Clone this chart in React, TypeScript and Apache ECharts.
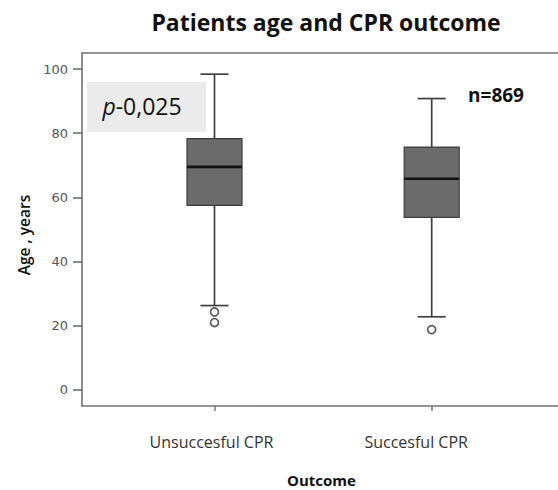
import React, { useEffect, useRef } from "react";
import * as echarts from "echarts";

const categories = ["Unsuccesful CPR", "Succesful CPR"];
const whiskerLow = [26.3, 22.8];
const quartile1 = [57.5, 53.8];
const medians = [69.5, 65.8];
const quartile3 = [78.3, 75.7];
const whiskerHigh = [98.4, 90.8];
const outlierCategory = [0, 0, 1];
const outlierAge = [24.3, 21.0, 18.8];
const yTicks = [0, 20, 40, 60, 80, 100];
const catPositions = [1, 2];

export default function App() {
  const ref = useRef<HTMLDivElement>(null);
  useEffect(() => {
    document.body.style.margin = "0";
    document.body.style.overflow = "hidden";
    const chart = echarts.init(ref.current!, null, { renderer: "svg" });
    const boxData = categories.map((_, i) => [
      catPositions[i],
      whiskerLow[i],
      quartile1[i],
      medians[i],
      quartile3[i],
      whiskerHigh[i],
    ]);
    const outlierData = outlierCategory.map((c, i) => [catPositions[c], outlierAge[i]]);
    const frameLine = { show: true, onZero: false, lineStyle: { color: "#707070", width: 1.6 } };
    chart.setOption({
      animation: false,
      grid: { left: 82, right: 10, top: 53, bottom: 84 },
      xAxis: [
        {
          type: "value",
          min: 0.39,
          max: 2.6138,
          splitLine: { show: false },
          axisLine: frameLine,
          axisTick: { show: true, customValues: catPositions, length: 5, lineStyle: { color: "#777", width: 1.5 } },
          axisLabel: {
            customValues: catPositions,
            formatter: (v: number) => {
              const i = Math.round(v) - 1;
              return i === 0 ? "{a|" + categories[0] + "}" : "{b|" + categories[1] + "}";
            },
            margin: 36,
            verticalAlign: "middle",
            rich: {
              a: { fontSize: 16, fontFamily: "Open Sans", color: "#333", padding: [0, 6, 0, 0] },
              b: { fontSize: 16, fontFamily: "Open Sans", color: "#333", padding: [0, 31, 0, 0] },
            },
          },
        },
        {
          type: "value",
          position: "top",
          min: 0.39,
          max: 2.6138,
          splitLine: { show: false },
          axisLine: frameLine,
          axisTick: { show: false },
          axisLabel: { show: false },
        },
      ],
      yAxis: {
        type: "value",
        min: -5,
        max: 105,
        splitLine: { show: false },
        axisLine: frameLine,
        axisTick: { show: true, customValues: yTicks, length: 9, lineStyle: { color: "#666", width: 1.5 } },
        axisLabel: { customValues: yTicks, margin: 14, fontSize: 13, fontFamily: "DejaVu Sans", color: "#555" },
      },
      series: [
        {
          type: "custom",
          data: boxData,
          encode: { x: 0, y: [1, 2, 3, 4, 5] },
          renderItem: (params: any, api: any) => {
            const x = api.value(0);
            const lo = api.coord([x, api.value(1)]);
            const q1 = api.coord([x, api.value(2)]);
            const md = api.coord([x, api.value(3)]);
            const q3 = api.coord([x, api.value(4)]);
            const hi = api.coord([x, api.value(5)]);
            const cx = lo[0];
            const hw = 27.5;
            const cw = 14;
            const wStyle = { stroke: "#3f3f3f", lineWidth: 1.7 };
            return {
              type: "group",
              children: [
                { type: "line", shape: { x1: cx, y1: hi[1], x2: cx, y2: q3[1] }, style: wStyle },
                { type: "line", shape: { x1: cx, y1: q1[1], x2: cx, y2: lo[1] }, style: wStyle },
                { type: "line", shape: { x1: cx - cw, y1: hi[1], x2: cx + cw, y2: hi[1] }, style: wStyle },
                { type: "line", shape: { x1: cx - cw, y1: lo[1], x2: cx + cw, y2: lo[1] }, style: wStyle },
                {
                  type: "rect",
                  shape: { x: cx - hw, y: q3[1], width: 2 * hw, height: q1[1] - q3[1] },
                  style: { fill: "#6b6b6b", stroke: "#3c3c3c", lineWidth: 1.2 },
                },
                {
                  type: "line",
                  shape: { x1: cx - hw, y1: md[1], x2: cx + hw, y2: md[1] },
                  style: { stroke: "#111", lineWidth: 2.6 },
                },
              ],
            };
          },
        },
        {
          type: "scatter",
          data: outlierData,
          symbol: "circle",
          symbolSize: 8,
          itemStyle: { color: "#fff", borderColor: "#555", borderWidth: 1.6, opacity: 1 },
        },
      ],
      graphic: [
        {
          type: "text",
          x: 326,
          y: 22,
          style: {
            text: "Patients age and CPR outcome",
            fontFamily: "Open Sans",
            fontWeight: "bold",
            fontSize: 23,
            fill: "#111",
            textAlign: "center",
            textVerticalAlign: "middle",
          },
        },
        {
          type: "rect",
          shape: { x: 87, y: 82, width: 119, height: 50 },
          style: { fill: "#ebebeb" },
        },
        {
          type: "text",
          x: 142,
          y: 106,
          style: {
            text: "{i|p}-0,025",
            fontFamily: "Open Sans",
            fontSize: 23,
            fill: "#111",
            textAlign: "center",
            textVerticalAlign: "middle",
            rich: {
              i: { fontFamily: "Open Sans", fontSize: 23, fontStyle: "italic", fill: "#111" },
            },
          },
        },
        {
          type: "text",
          x: 496,
          y: 95,
          style: {
            text: "n=869",
            fontFamily: "Open Sans",
            fontWeight: "bold",
            fontSize: 19,
            fill: "#111",
            textAlign: "center",
            textVerticalAlign: "middle",
          },
        },
        {
          type: "text",
          x: 24,
          y: 235,
          rotation: Math.PI / 2,
          style: {
            text: "Age , years",
            fontFamily: "Open Sans",
            fontWeight: 600,
            fontSize: 15.5,
            fill: "#111",
            textAlign: "center",
            textVerticalAlign: "middle",
          },
        },
        {
          type: "text",
          x: 321.5,
          y: 480,
          style: {
            text: "Outcome",
            fontFamily: "Open Sans",
            fontWeight: "bold",
            fontSize: 15,
            fill: "#111",
            textAlign: "center",
            textVerticalAlign: "middle",
          },
        },
      ],
    });
    return () => chart.dispose();
  }, []);
  return <div ref={ref} style={{ width: 575, height: 490 }} />;
}
